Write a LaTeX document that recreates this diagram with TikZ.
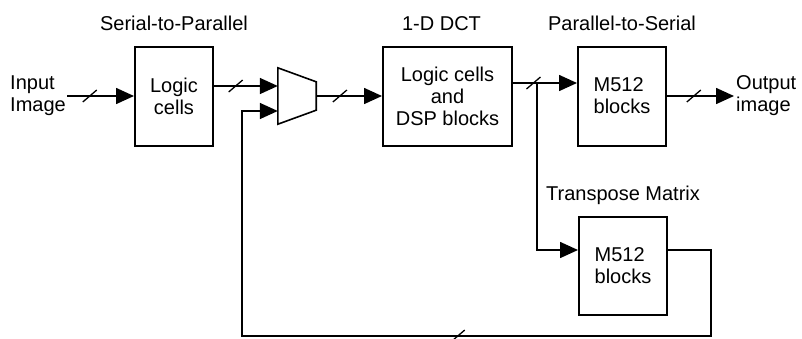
\documentclass[tikz,border=0pt]{standalone}
\usepackage{fontspec}
\setmainfont{Liberation Sans}
\usetikzlibrary{arrows.meta,positioning}
\tikzset{
  >={Triangle[length=18pt,width=16pt]},
  box/.style={draw,line width=2pt,minimum width=#1,minimum height=99pt,align=center,
    font=\fontsize{20}{22}\selectfont,inner sep=0pt},
  box/.default=88pt,
  flow/.style={->,line width=1.6pt},
  tag/.style={font=\fontsize{20}{22}\selectfont,anchor=base,inner sep=0pt},
  io/.style={font=\fontsize{20}{22}\selectfont,align=left,inner sep=1pt},
  % bus width mark
  pics/bus/.style={code={
    \draw[-,line width=1.3pt] (-7,6) -- (7,-6);
  }},
}

\begin{document}
\begin{tikzpicture}[x=1pt,y=-1pt]
  \useasboundingbox (0,0) rectangle (802,338);
  % blocks
  \node[box=78pt] (sp) at (174,96) {Logic\\cells};
  \node[box=129pt] (dct) at (447.5,96) {Logic cells\\and\\DSP blocks};
  \node[box=88pt,align=left] (ps) at (622,96) {M512\\blocks};
  \node[box=88pt,minimum height=98pt,align=left] (tm) at (623,266) {M512\\blocks};
  % multiplexer
  \node[minimum width=38pt,minimum height=56pt,inner sep=0pt] (mux) at (297,96) {};
  \draw[line width=1.6pt] (mux.north west) -- ([yshift=-14pt]mux.north east)
    -- ([yshift=14pt]mux.south east) -- (mux.south west) -- cycle;
  % titles
  \node[tag] (t-sp) at ([yshift=15pt]sp.north) {Serial-to-Parallel};
  \node[tag] (t-dct) at ([xshift=-6pt,yshift=15pt]dct.north) {1-D DCT};
  \node[tag] (t-ps) at ([yshift=15pt]ps.north) {Parallel-to-Serial};
  \node[tag] (t-tm) at ([yshift=16pt]tm.north) {Transpose Matrix};
  % input and output
  \node[io,anchor=east] (in) at (67,96) {Input\\Image};
  \node[io,anchor=west,inner sep=2pt] (out) at (734,96) {Output\\image};
  % signals
  \coordinate (tap) at (537,83);
  \coordinate (fb-r) at (711,336);
  \coordinate (fb-l) at (242,336);
  \draw[flow] (in) -- pic[pos=.34]{bus} (sp);
  \draw[flow] ([yshift=10pt]sp.east) -- pic[pos=.34]{bus} ([yshift=10pt]sp.east -| mux.west);
  \draw[flow] (mux) -- pic[pos=.36]{bus} (dct);
  \draw[flow] ([yshift=13pt]dct.east) -- pic[pos=.32]{bus} ([yshift=13pt]dct.east -| ps.west);
  \draw[flow] (ps) -- pic[pos=.4]{bus} (out);
  \draw[flow] (tap) |- ([yshift=16pt]tm.west);
  \draw[flow] ([yshift=16pt]tm.east) -| (fb-r) -- pic[pos=.54]{bus} (fb-l)
    |- ([yshift=-15pt]mux.west);
\end{tikzpicture}
\end{document}
